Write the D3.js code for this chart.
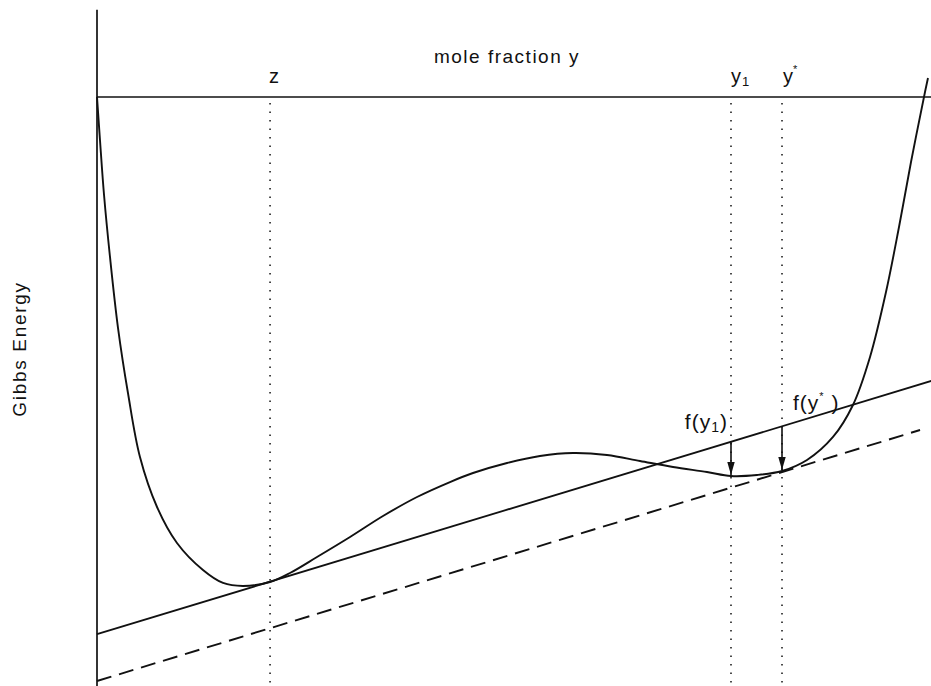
<!DOCTYPE html>
<html>
<head>
<meta charset="utf-8">
<script src="https://cdn.jsdelivr.net/npm/d3@7"></script>
<style>
  html, body { margin: 0; padding: 0; background: #fff; }
  svg { display: block; }
  text { font-family: "Liberation Sans", Arial, Helvetica, sans-serif; fill: #111; }
</style>
</head>
<body>
<script>
// Gibbs energy of mixing against mole fraction (arbitrary energy units)
const curveX = [0.0000, 0.0036, 0.0085, 0.0157, 0.0254, 0.0374, 0.0519, 0.0725, 0.0966, 0.1280,
                0.1522, 0.1763, 0.2089, 0.2331, 0.2657, 0.3056, 0.3454, 0.3865, 0.4263, 0.4541,
                0.4952, 0.5350, 0.5749, 0.6159, 0.6558, 0.6957, 0.7367, 0.7657, 0.7971, 0.8273,
                0.8575, 0.8889, 0.9130, 0.9336, 0.9529, 0.9686, 0.9831, 1.0000, 1.0036];
const curveG = [1.0000, 0.9270, 0.8336, 0.7284, 0.6078, 0.4975, 0.3888, 0.3039, 0.2428, 0.1969,
                0.1749, 0.1698, 0.1766, 0.1919, 0.2190, 0.2530, 0.2886, 0.3209, 0.3463, 0.3616,
                0.3786, 0.3905, 0.3956, 0.3922, 0.3820, 0.3718, 0.3633, 0.3565, 0.3582, 0.3650,
                0.3837, 0.4228, 0.4771, 0.5586, 0.6689, 0.7793, 0.8896, 1.0085, 1.0323];

// Compositions marked on the mole-fraction axis
const markerKeys = ["z", "y1", "ystar"];
const markerX    = [0.209, 0.7657, 0.8273];

// Tangent line through z (solid) and parallel supporting line through y* (dashed)
const tangentX = [0, 1.008];
const tangentG = [0.088, 0.518];
const supportX = [0, 0.994];
const supportG = [0.0085, 0.4346];

// Distances f(y) drawn as arrows from the tangent line down to the curve
const arrowX = [0.7657, 0.8273];

const W = 931, H = 686;
const svg = d3.select("body").append("svg").attr("width", W).attr("height", H);

const x = d3.scaleLinear().domain([0, 1]).range([97, 925]);
const y = d3.scaleLinear().domain([0, 1]).range([686, 97]);

svg.append("defs").append("marker")
  .attr("id", "head")
  .attr("viewBox", "0 0 14 8")
  .attr("refX", 14).attr("refY", 4)
  .attr("markerUnits", "userSpaceOnUse")
  .attr("markerWidth", 13).attr("markerHeight", 7.5)
  .attr("orient", "auto")
  .append("path").attr("d", "M0,0 L14,4 L0,8 Z").attr("fill", "#111");

// Frame: energy axis on the left, mole-fraction axis across the top
svg.append("line")
  .attr("x1", x(0)).attr("x2", x(0))
  .attr("y1", y(1.148)).attr("y2", y(0))
  .attr("stroke", "#111").attr("stroke-width", 1.7);
svg.append("line")
  .attr("x1", x(0)).attr("x2", W)
  .attr("y1", y(1)).attr("y2", y(1))
  .attr("stroke", "#111").attr("stroke-width", 1.7);

// Dotted verticals at z, y1, y*
svg.selectAll("line.marker").data(markerX).join("line")
  .attr("class", (d, i) => "marker " + markerKeys[i])
  .attr("x1", d => x(d)).attr("x2", d => x(d))
  .attr("y1", y(0.99)).attr("y2", y(0))
  .attr("stroke", "#111").attr("stroke-width", 1.5)
  .attr("stroke-dasharray", "1.5,7");

const pts = curveX.map((v, i) => [v, curveG[i]]);
const smooth = d3.line().x(d => x(d[0])).y(d => y(d[1])).curve(d3.curveCatmullRom.alpha(0.5));
svg.append("path")
  .attr("d", smooth(pts))
  .attr("fill", "none").attr("stroke", "#111").attr("stroke-width", 1.9);

const straight = d3.line().x(d => x(d[0])).y(d => y(d[1]));
svg.append("path")
  .attr("d", straight(tangentX.map((v, i) => [v, tangentG[i]])))
  .attr("fill", "none").attr("stroke", "#111").attr("stroke-width", 1.9);
svg.append("path")
  .attr("d", straight(supportX.map((v, i) => [v, supportG[i]])))
  .attr("fill", "none").attr("stroke", "#111").attr("stroke-width", 1.9)
  .attr("stroke-dasharray", "15,8");

const tangentAt = v => tangentG[0] + (tangentG[1] - tangentG[0]) * (v - tangentX[0]) / (tangentX[1] - tangentX[0]);
const curveAt = v => curveG[curveX.indexOf(v)];

svg.selectAll("line.arrow").data(arrowX).join("line")
  .attr("class", "arrow")
  .attr("x1", d => x(d)).attr("x2", d => x(d))
  .attr("y1", d => y(tangentAt(d))).attr("y2", d => y(curveAt(d)) - 1)
  .attr("stroke", "#111").attr("stroke-width", 1.6)
  .attr("marker-end", "url(#head)");

// Texts
svg.append("text")
  .attr("x", 507).attr("y", 63)
  .attr("text-anchor", "middle")
  .attr("font-size", 19).attr("letter-spacing", 1.5)
  .text("mole fraction y");

svg.append("text")
  .attr("transform", "translate(26,349) rotate(-90)")
  .attr("text-anchor", "middle")
  .attr("font-size", 19).attr("letter-spacing", 1.7)
  .text("Gibbs Energy");

const markLabels = svg.append("g").attr("font-size", 20);
markLabels.append("text").attr("x", x(markerX[0]) - 1).attr("y", 83).text("z");
const t1 = markLabels.append("text").attr("x", x(markerX[1])).attr("y", 83);
t1.append("tspan").text("y");
t1.append("tspan").attr("font-size", 13).attr("dx", 1).attr("dy", 3).text("1");
const t2 = markLabels.append("text").attr("x", x(markerX[2]) + 1).attr("y", 83);
t2.append("tspan").text("y");
t2.append("tspan").attr("font-size", 11).attr("dy", -10).text("*");

const f1 = svg.append("text")
  .attr("x", x(arrowX[0]) - 3).attr("y", 429)
  .attr("text-anchor", "end").attr("font-size", 21).attr("letter-spacing", 1);
f1.append("tspan").text("f(y");
f1.append("tspan").attr("font-size", 14).attr("dy", 3).text("1");
f1.append("tspan").attr("dy", -3).text(")");

const f2 = svg.append("text")
  .attr("x", x(arrowX[1]) + 11).attr("y", 410)
  .attr("font-size", 21).attr("letter-spacing", 1);
f2.append("tspan").text("f(y");
f2.append("tspan").attr("font-size", 11).attr("dy", -10).text("*");
f2.append("tspan").attr("dy", 10).text(" )");
</script>
</body>
</html>
